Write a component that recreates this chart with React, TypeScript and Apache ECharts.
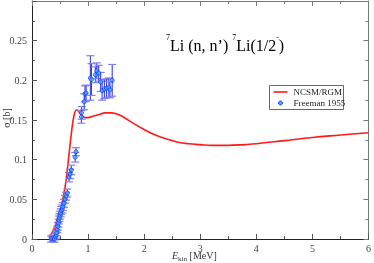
import React, { useEffect, useRef } from "react";
import * as echarts from "echarts";

const curveE = [0.3, 0.35, 0.4, 0.45, 0.5, 0.55, 0.6, 0.65, 0.7, 0.75, 0.8, 0.85, 0.9, 0.95, 1.0, 1.1, 1.2, 1.3, 1.4, 1.5, 1.6, 1.8, 2.0, 2.2, 2.4, 2.6, 2.8, 3.0, 3.2, 3.5, 3.8, 4.0, 4.5, 5.0, 5.5, 6.0];
const curveS = [0.002, 0.007, 0.014, 0.025, 0.036, 0.05, 0.07, 0.1, 0.132, 0.156, 0.163, 0.159, 0.155, 0.153, 0.153, 0.155, 0.157, 0.159, 0.159, 0.158, 0.155, 0.146, 0.138, 0.131, 0.126, 0.122, 0.12, 0.119, 0.118, 0.118, 0.119, 0.12, 0.124, 0.128, 0.131, 0.134];

const expE = [0.34, 0.37, 0.4, 0.42, 0.43, 0.44, 0.45, 0.46, 0.47, 0.48, 0.49, 0.5, 0.51, 0.52, 0.54, 0.55, 0.57, 0.59, 0.61, 0.63, 0.66, 0.68, 0.7, 0.77, 0.785, 0.88, 0.885, 0.93, 0.945, 0.965, 1.04, 1.06, 1.13, 1.155, 1.19, 1.225, 1.25, 1.29, 1.33, 1.37, 1.39, 1.43];
const expS = [0.0, 0.001, 0.0, 0.003, 0.005, 0.008, 0.012, 0.016, 0.02, 0.024, 0.027, 0.03, 0.033, 0.036, 0.038, 0.041, 0.045, 0.05, 0.054, 0.058, 0.078, 0.082, 0.087, 0.103, 0.11, 0.154, 0.159, 0.173, 0.183, 0.184, 0.203, 0.201, 0.207, 0.212, 0.209, 0.198, 0.187, 0.189, 0.19, 0.191, 0.188, 0.2];
const expErr = [0.004, 0.004, 0.004, 0.004, 0.004, 0.004, 0.004, 0.005, 0.005, 0.005, 0.005, 0.005, 0.005, 0.005, 0.005, 0.005, 0.005, 0.005, 0.005, 0.005, 0.006, 0.006, 0.006, 0.006, 0.005, 0.008, 0.008, 0.01, 0.01, 0.01, 0.028, 0.02, 0.01, 0.01, 0.01, 0.012, 0.012, 0.012, 0.012, 0.012, 0.01, 0.02];

const xTicks = [0, 1, 2, 3, 4, 5, 6];
const yTicks = [0, 0.05, 0.1, 0.15, 0.2, 0.25];

const FONT = "'Liberation Serif', 'DejaVu Serif', serif";

export default function App() {
  const ref = useRef<HTMLDivElement>(null);
  useEffect(() => {
    if (!ref.current) return;
    document.body.style.margin = "0";
    const chart = echarts.init(ref.current, null, { renderer: "svg" });
    const curve = curveE.map((e, i) => [e, curveS[i]]);
    const pts = expE.map((e, i) => [e, expS[i]]);
    const errs = expE.map((e, i) => [e, expS[i] - expErr[i], expS[i] + expErr[i]]);
    const axisLabel = {
      fontFamily: FONT,
      fontSize: 10,
      color: "#444",
    };
    chart.setOption({
      animation: false,
      grid: { left: 32, right: 3, top: 1, bottom: 24 },
      xAxis: [
        {
          type: "value",
          min: 0,
          max: 6,
          interval: 1,
          axisLine: { onZero: false, lineStyle: { color: "#222", width: 1 } },
          axisTick: { inside: true, length: 5, lineStyle: { color: "#555" } },
          minorTick: { show: true, splitNumber: 2, length: 3, lineStyle: { color: "#555" } },
          splitLine: { show: false },
          axisLabel: {
            ...axisLabel,
            margin: 4,
            formatter: (v: number) => (xTicks.includes(v) ? String(v) : ""),
          },
        },
        {
          type: "value",
          position: "top",
          min: 0,
          max: 6,
          interval: 1,
          axisLine: { onZero: false, lineStyle: { color: "#777", width: 1 } },
          axisTick: { inside: true, length: 5, lineStyle: { color: "#777" } },
          minorTick: { show: true, splitNumber: 2, length: 3, lineStyle: { color: "#777" } },
          splitLine: { show: false },
          axisLabel: { show: false },
        },
      ],
      yAxis: [
        {
          type: "value",
          min: 0,
          max: 0.3,
          interval: 0.05,
          axisLine: { onZero: false, lineStyle: { color: "#222", width: 1 } },
          axisTick: { inside: true, length: 5, lineStyle: { color: "#555" } },
          minorTick: { show: true, splitNumber: 2, length: 3, lineStyle: { color: "#555" } },
          splitLine: { show: false },
          axisLabel: {
            ...axisLabel,
            margin: 5,
            formatter: (v: number) => {
              const r = Math.round(v * 100) / 100;
              const hit = yTicks.find((t) => Math.abs(t - r) < 1e-9);
              return hit === undefined ? "" : String(hit);
            },
          },
        },
        {
          type: "value",
          position: "right",
          min: 0,
          max: 0.3,
          interval: 0.05,
          axisLine: { onZero: false, lineStyle: { color: "#777", width: 1 } },
          axisTick: { inside: true, length: 5, lineStyle: { color: "#777" } },
          minorTick: { show: true, splitNumber: 2, length: 3, lineStyle: { color: "#777" } },
          splitLine: { show: false },
          axisLabel: { show: false },
        },
      ],
      series: [
        {
          type: "line",
          name: "NCSM/RGM",
          data: curve,
          smooth: 0.4,
          showSymbol: false,
          lineStyle: { color: "#ff1a1a", width: 1.6 },
          z: 2,
        },
        {
          type: "custom",
          name: "err",
          data: errs,
          z: 3,
          renderItem: (params: any, api: any) => {
            const x = api.value(0);
            const lo = api.coord([x, api.value(1)]);
            const hi = api.coord([x, api.value(2)]);
            const cw = 4;
            return {
              type: "group",
              children: [
                {
                  type: "line",
                  shape: { x1: lo[0], y1: lo[1], x2: hi[0], y2: hi[1] },
                  style: { stroke: "#2b2bdd", lineWidth: 1 },
                },
                {
                  type: "line",
                  shape: { x1: lo[0] - cw, y1: lo[1], x2: lo[0] + cw, y2: lo[1] },
                  style: { stroke: "#8080f0", lineWidth: 1.2 },
                },
                {
                  type: "line",
                  shape: { x1: hi[0] - cw, y1: hi[1], x2: hi[0] + cw, y2: hi[1] },
                  style: { stroke: "#8080f0", lineWidth: 1.2 },
                },
              ],
            };
          },
        },
        {
          type: "scatter",
          name: "Freeman 1955",
          data: pts,
          symbol: "circle",
          symbolSize: 4,
          itemStyle: { color: "#33b5ff", borderColor: "#1a1aff", borderWidth: 0.8 },
          z: 4,
        },
      ],
      graphic: [
        {
          type: "text",
          left: 166,
          top: 33,
          style: {
            text: "{s|7}{m|Li (n, n’) }{s|7}{m|Li(1/2}{s|-}{m|)}",
            rich: {
              m: { fontFamily: FONT, fontSize: 16, fill: "#000", lineHeight: 20, verticalAlign: "bottom" },
              s: { fontFamily: FONT, fontSize: 8, fill: "#000", lineHeight: 20, verticalAlign: "top" },
            },
          },
        },
        {
          type: "group",
          left: 269,
          top: 85,
          children: [
            {
              type: "rect",
              shape: { x: 0, y: 0, width: 74, height: 24 },
              style: { fill: "#fff", stroke: "#666", lineWidth: 1 },
            },
            {
              type: "line",
              shape: { x1: 4, y1: 6.5, x2: 18, y2: 6.5 },
              style: { stroke: "#ff1a1a", lineWidth: 1.6 },
            },
            {
              type: "text",
              x: 24,
              y: 6.5,
              style: { text: "NCSM/RGM", fontFamily: FONT, fontSize: 9, fill: "#222", verticalAlign: "middle" },
            },
            {
              type: "circle",
              shape: { cx: 11, cy: 17.5, r: 2 },
              style: { fill: "#33b5ff", stroke: "#1a1aff", lineWidth: 0.8 },
            },
            {
              type: "text",
              x: 24,
              y: 17.5,
              style: { text: "Freeman 1955", fontFamily: FONT, fontSize: 9, fill: "#222", verticalAlign: "middle" },
            },
          ],
        },
        {
          type: "text",
          left: 172,
          top: 250,
          style: {
            text: "{e|E}{k|kin}{m| [MeV]}",
            rich: {
              e: { fontFamily: FONT, fontSize: 10, fontStyle: "italic", fill: "#333", lineHeight: 12, verticalAlign: "top" },
              k: { fontFamily: FONT, fontSize: 7, fill: "#333", lineHeight: 12, verticalAlign: "bottom" },
              m: { fontFamily: FONT, fontSize: 10, fill: "#333", lineHeight: 12, verticalAlign: "top" },
            },
          },
        },
        {
          type: "text",
          x: 6,
          y: 118,
          rotation: Math.PI / 2,
          style: {
            text: "σ [b]",
            fontFamily: FONT,
            fontSize: 10,
            fill: "#333",
            align: "center",
            verticalAlign: "middle",
          },
        },
      ],
    });
    return () => chart.dispose();
  }, []);
  return <div ref={ref} style={{ width: 374, height: 263, position: "fixed", left: 0, top: 0 }} />;
}
